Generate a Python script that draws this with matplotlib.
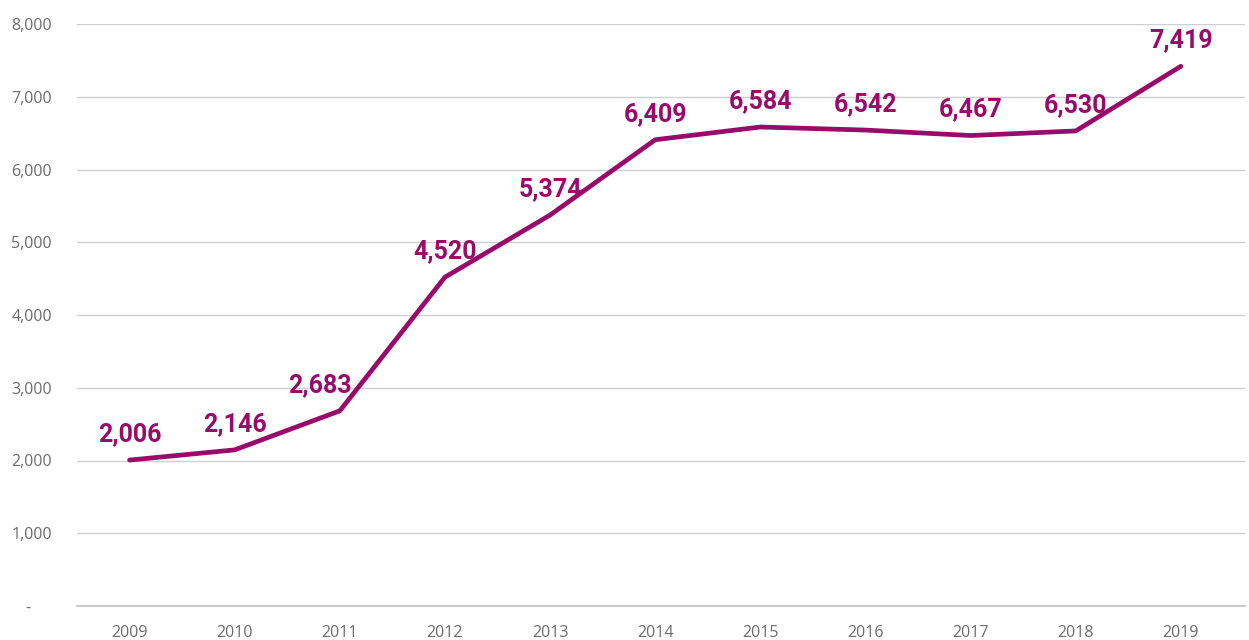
import matplotlib.pyplot as plt
from matplotlib.ticker import FuncFormatter

years = [2009, 2010, 2011, 2012, 2013, 2014, 2015, 2016, 2017, 2018, 2019]
values = [2006, 2146, 2683, 4520, 5374, 6409, 6584, 6542, 6467, 6530, 7419]
labels = ["2,006", "2,146", "2,683", "4,520", "5,374", "6,409",
          "6,584", "6,542", "6,467", "6,530", "7,419"]

line_col = "#990a6a"
tick_col = "#6b6b6b"

# small horizontal nudges (points) so labels clear the line
nudge = {2011: -14}

fig = plt.figure(figsize=(12.49, 6.4), dpi=100)
ax = fig.add_axes([77 / 1249, 34 / 640, (1245 - 77) / 1249, (606 - 24) / 640])

x = list(range(len(years)))
ax.plot(x, values, color=line_col, lw=3.4, solid_capstyle="round", zorder=3)

for xi, yr, v, lab in zip(x, years, values, labels):
    ax.annotate(lab, (xi, v), xytext=(nudge.get(yr, 0), 10), textcoords="offset points",
                ha="center", va="bottom", color=line_col, fontsize=18,
                fontweight="bold", family=["Roboto", "DejaVu Sans"])

ax.set_xlim(-0.5, len(years) - 0.5 + 0.11)
ax.set_ylim(0, 8000)
ax.set_yticks(range(0, 8001, 1000))
ax.yaxis.set_major_formatter(FuncFormatter(lambda v, p: "-     " if v == 0 else f"{int(v):,}"))
ax.set_xticks(x)
ax.set_xticklabels([str(y) for y in years])

ax.grid(axis="y", color="#cfcfcf", lw=1.0)
ax.axhline(0, color="#bfbfbf", lw=1.2, clip_on=False, zorder=1)
ax.set_axisbelow(True)
for s in ax.spines.values():
    s.set_visible(False)
ax.tick_params(length=0, colors=tick_col, labelsize=11.5)
ax.tick_params(axis="x", pad=14)
ax.tick_params(axis="y", pad=18)
for t in ax.get_xticklabels() + ax.get_yticklabels():
    t.set_family(["Open Sans", "DejaVu Sans"])

fig.savefig("out.png", dpi=100)
